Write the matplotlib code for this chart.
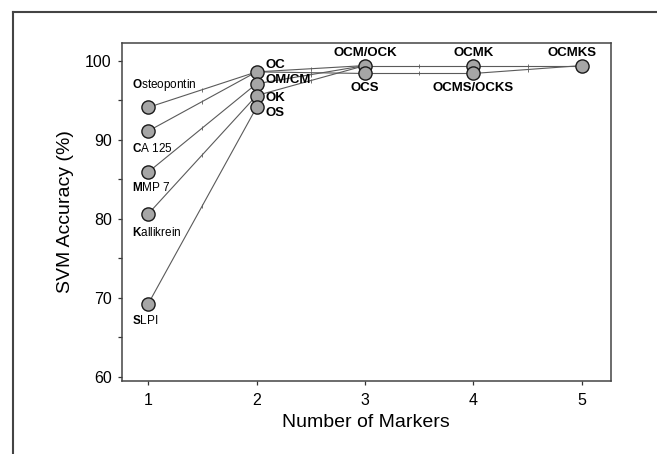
import matplotlib
matplotlib.use('Agg')
import matplotlib.pyplot as plt
from matplotlib.lines import Line2D
from matplotlib.ticker import MultipleLocator

# data
names = ['Osteopontin', 'CA 125', 'MMP 7', 'Kallikrein', 'SLPI',
         'OC', 'OM/CM', 'OK', 'OS',
         'OCM/OCK', 'OCS',
         'OCMK', 'OCMS/OCKS',
         'OCMKS']
n_markers = [1, 1, 1, 1, 1, 2, 2, 2, 2, 3, 3, 4, 4, 5]
accuracy = [94.1, 91.1, 85.9, 80.6, 69.2,
            98.6, 97.1, 95.6, 94.1,
            99.4, 98.4,
            99.4, 98.4,
            99.4]
links = [('Osteopontin', 'OC'), ('CA 125', 'OC'), ('MMP 7', 'OM/CM'),
         ('Kallikrein', 'OK'), ('SLPI', 'OS'),
         ('OC', 'OCM/OCK'), ('OC', 'OCS'), ('OM/CM', 'OCM/OCK'), ('OK', 'OCM/OCK'),
         ('OCM/OCK', 'OCMK'), ('OCS', 'OCMS/OCKS'),
         ('OCMK', 'OCMKS'), ('OCMS/OCKS', 'OCMKS')]

plt.rcParams['font.family'] = ['Liberation Sans', 'DejaVu Sans']
plt.rcParams['mathtext.fontset'] = 'custom'
plt.rcParams['mathtext.rm'] = 'Liberation Sans'
plt.rcParams['mathtext.bf'] = 'Liberation Sans:bold'

fig = plt.figure(figsize=(6.57, 4.54), dpi=100)
ax = fig.add_axes([0.185, 0.1615, 0.745, 0.7445])

pos = {nm: (x, y) for nm, x, y in zip(names, n_markers, accuracy)}
line_col = '#5a5a5a'
for a, b in links:
    xa, ya = pos[a]
    xb, yb = pos[b]
    ax.plot([xa, xb], [ya, yb], color=line_col, lw=0.8, zorder=1)
    # tiny tick halfway along each segment
    ax.plot([(xa + xb) / 2], [(ya + yb) / 2], marker='|', ms=2.5, mew=0.6,
            color=line_col, zorder=1)

ax.plot(n_markers, accuracy, 'o', ms=9.5, mfc='#a6a6a6', mec='#1a1a1a',
        mew=1.0, ls='none', zorder=3)

# single marker labels: first letter bold
single_off = {'Osteopontin': 22, 'CA 125': -17, 'MMP 7': -15,
              'Kallikrein': -18, 'SLPI': -16}
for nm, dy in single_off.items():
    txt = r'$\mathbf{%s}$%s' % (nm[0], nm[1:])
    ax.annotate(txt, pos[nm], xytext=(-16, dy), textcoords='offset pixels',
                ha='left', va='center', fontsize=8.5, color='black', zorder=4)

combo_off = {'OC': (9, 7, 'left'), 'OM/CM': (9, 4, 'left'), 'OK': (9, -2, 'left'),
             'OS': (9, -6, 'left'),
             'OCM/OCK': (0, 13, 'center'), 'OCS': (0, -15, 'center'),
             'OCMK': (0, 13, 'center'), 'OCMS/OCKS': (0, -15, 'center'),
             'OCMKS': (-10, 13, 'center')}
for nm, (dx, dy, ha) in combo_off.items():
    ax.annotate(nm, pos[nm], xytext=(dx, dy), textcoords='offset pixels',
                ha=ha, va='center', fontsize=9.5, fontweight='bold',
                color='black', zorder=4)

ax.set_xlim(0.755, 5.27)
ax.set_ylim(59.5, 102.3)
ax.set_xticks([1, 2, 3, 4, 5])
ax.yaxis.set_major_locator(MultipleLocator(10))
ax.yaxis.set_minor_locator(MultipleLocator(5))
ax.tick_params(axis='both', which='both', direction='out', length=3,
               width=0.9, color='#333333', labelsize=11.5, pad=4,
               labelcolor='black')
ax.tick_params(axis='x', pad=6)
for s in ax.spines.values():
    s.set_color('#444444')
    s.set_linewidth(1.1)

ax.set_xlabel('Number of Markers', fontsize=14, labelpad=4)
ax.set_ylabel('SVM Accuracy (%)', fontsize=14, labelpad=8)

# outer frame (only left and top edges are visible in the crop)
fx = 12.7 / 657
fy = 1 - 11.7 / 454
fig.add_artist(Line2D([fx, fx], [0, fy], transform=fig.transFigure,
                      color='#444444', lw=1.5))
fig.add_artist(Line2D([fx, 1], [fy, fy], transform=fig.transFigure,
                      color='#444444', lw=1.5))

fig.savefig('out.png', dpi=100)
